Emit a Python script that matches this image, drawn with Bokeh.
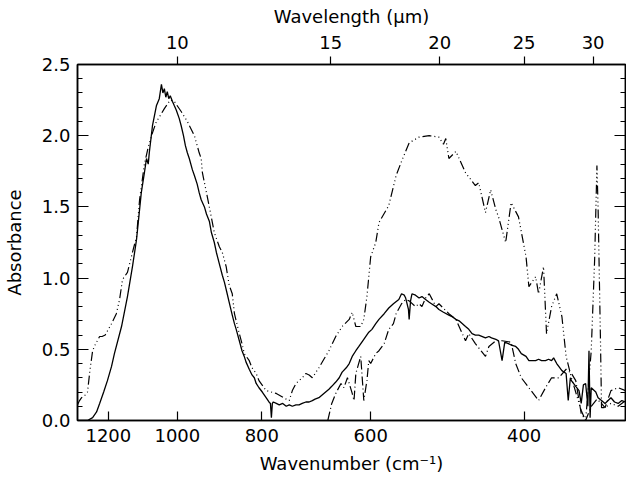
from bokeh.plotting import figure
from bokeh.models import (Range1d, FixedTicker, SingleIntervalTicker, LinearAxis, LogAxis,
                          CustomJSTickFormatter)
from bokeh.embed import file_html
from bokeh.resources import INLINE

# ---------------- data ----------------
# Series A (solid)
a_wn = [1302, 1288, 1268, 1251, 1238, 1228, 1215, 1203, 1190, 1181, 1159, 1141, 1126, 1114,
        1100, 1091, 1085, 1080, 1077, 1068, 1057, 1049, 1043, 1039, 1035, 1031, 1027, 1023,
        1019, 1013, 1008, 1003, 995, 990, 984, 979, 974, 969, 961, 956, 949, 944, 939, 931,
        926, 919, 914, 907, 902, 895, 888, 883, 879, 872, 865, 860, 856, 849, 843, 838, 834,
        827, 821, 816, 812, 806, 799, 795, 791, 785, 782, 780, 778, 776, 770, 764, 757, 750,
        744, 738, 731, 725, 719, 712, 706, 700, 695, 688, 679, 670, 665, 658, 652, 647, 640,
        635, 630, 624, 619, 611, 603, 598, 592, 587, 579, 572, 565, 557, 553, 549, 547, 543,
        542, 540, 538, 533, 528, 524, 519, 514, 511, 505, 501, 495, 488, 484, 479, 475, 467,
        463, 459, 455, 451, 443, 439, 436, 431, 428, 424, 421, 417, 414, 409, 406, 403, 398,
        395, 392, 388, 385, 382, 378, 375, 372, 370, 367, 365, 362, 358, 356, 354, 353, 349,
        346, 344, 342, 340, 338, 337, 336, 335, 331, 329, 326, 323, 318, 315, 312, 309, 306,
        303, 301]
a_abs = [0.00, 0.00, 0.00, 0.02, 0.06, 0.12, 0.20, 0.28, 0.38, 0.47, 0.66, 0.87, 1.08, 1.27,
         1.60, 1.74, 1.84, 1.80, 1.88, 2.07, 2.21, 2.26, 2.36, 2.30, 2.33, 2.27, 2.31, 2.26,
         2.28, 2.24, 2.21, 2.18, 2.12, 2.07, 2.00, 1.93, 1.88, 1.84, 1.76, 1.72, 1.66, 1.60,
         1.55, 1.50, 1.45, 1.40, 1.32, 1.25, 1.18, 1.10, 1.02, 0.97, 0.92, 0.83, 0.74, 0.68,
         0.64, 0.56, 0.49, 0.45, 0.41, 0.36, 0.32, 0.30, 0.26, 0.23, 0.20, 0.18, 0.16, 0.13,
         0.12, 0.02, 0.12, 0.13, 0.12, 0.11, 0.12, 0.10, 0.11, 0.10, 0.11, 0.11, 0.12, 0.13,
         0.13, 0.14, 0.15, 0.16, 0.19, 0.22, 0.24, 0.27, 0.30, 0.34, 0.37, 0.40, 0.45, 0.49,
         0.52, 0.57, 0.62, 0.64, 0.68, 0.71, 0.75, 0.79, 0.82, 0.85, 0.89, 0.88, 0.86, 0.78,
         0.71, 0.84, 0.89, 0.88, 0.86, 0.87, 0.85, 0.83, 0.82, 0.80, 0.78, 0.76, 0.74, 0.73,
         0.71, 0.70, 0.66, 0.64, 0.61, 0.60, 0.60, 0.58, 0.59, 0.58, 0.57, 0.56, 0.42, 0.55,
         0.54, 0.53, 0.52, 0.50, 0.47, 0.45, 0.42, 0.42, 0.42, 0.43, 0.42, 0.42, 0.43, 0.42,
         0.44, 0.40, 0.38, 0.35, 0.33, 0.14, 0.30, 0.28, 0.24, 0.21, 0.12, 0.25, 0.26, 0.10,
         0.49, 0.02, 0.23, 0.20, 0.16, 0.14, 0.12, 0.16, 0.13, 0.12, 0.14, 0.13, 0.10, 0.09]

# Series B (dash-dot-dot-dot, large far-IR band)
b_wn = [1302, 1295, 1288, 1275, 1268, 1260, 1251, 1243, 1238, 1228, 1220, 1210, 1200, 1190,
        1175, 1165, 1156, 1141, 1126, 1114, 1105, 1091, 1080, 1068, 1057, 1049, 1035, 1019,
        1008, 990, 974, 956, 944, 939, 936, 926, 919, 907, 895, 888, 879, 872, 865, 860, 849,
        843, 838, 827, 821, 812, 806, 791, 770, 750, 744, 738, 731, 725, 719, 712, 706, 700,
        688, 679, 670, 658, 647, 635, 630, 624, 616, 611, 606, 600, 592, 587, 572, 561, 553,
        542, 528, 514, 501, 495, 492, 488, 479, 467, 455, 451, 443, 437, 431, 428, 420, 414,
        406, 398, 395, 388, 385, 380, 377, 372, 367, 362, 358, 353, 344, 340, 335, 332, 330,
        329, 327, 326, 323, 318, 312, 306, 301]
b_abs = [0.11, 0.14, 0.16, 0.18, 0.20, 0.35, 0.49, 0.53, 0.55, 0.59, 0.59, 0.60, 0.64, 0.68,
         0.75, 0.85, 0.99, 1.04, 1.18, 1.29, 1.55, 1.80, 1.92, 2.02, 2.10, 2.13, 2.19, 2.25,
         2.24, 2.17, 2.10, 2.00, 1.88, 1.84, 1.74, 1.60, 1.50, 1.32, 1.22, 1.18, 1.08, 0.95,
         0.89, 0.75, 0.61, 0.54, 0.47, 0.42, 0.37, 0.33, 0.28, 0.21, 0.19, 0.15, 0.14, 0.21,
         0.26, 0.28, 0.30, 0.33, 0.32, 0.30, 0.37, 0.43, 0.49, 0.59, 0.66, 0.71, 0.76, 0.66,
         0.66, 0.71, 0.87, 1.15, 1.25, 1.39, 1.51, 1.72, 1.82, 1.95, 1.99, 2.00, 1.99, 1.94,
         1.98, 1.84, 1.89, 1.74, 1.65, 1.67, 1.46, 1.62, 1.48, 1.43, 1.25, 1.53, 1.43, 1.15,
         0.94, 1.01, 0.89, 1.08, 0.61, 0.80, 0.89, 0.73, 0.45, 0.30, 0.07, 0.00, 0.49, 1.13,
         1.79, 1.50, 0.60, 0.09, 0.09, 0.12, 0.10, 0.14, 0.12]

# Series C (dash-dot, starts below 680 cm^-1)
c_wn = [672, 665, 658, 649, 644, 638, 635, 630, 627, 624, 616, 611, 606, 603, 600, 592, 587,
        579, 572, 565, 561, 553, 547, 542, 533, 528, 524, 519, 514, 505, 501, 488, 479, 467,
        463, 455, 443, 439, 431, 424, 414, 409, 403, 395, 385, 378, 372, 365, 358, 353, 349,
        344, 340, 335, 330, 326, 323, 318, 312, 306, 301]
c_abs = [0.00, 0.12, 0.19, 0.26, 0.23, 0.30, 0.26, 0.19, 0.14, 0.33, 0.45, 0.14, 0.28, 0.42,
         0.40, 0.47, 0.49, 0.54, 0.64, 0.68, 0.75, 0.82, 0.85, 0.84, 0.80, 0.82, 0.80, 0.86,
         0.89, 0.80, 0.82, 0.75, 0.71, 0.56, 0.61, 0.54, 0.45, 0.52, 0.56, 0.56, 0.55, 0.40,
         0.30, 0.23, 0.14, 0.23, 0.30, 0.30, 0.36, 0.33, 0.28, 0.05, 0.00, 0.10, 0.15, 0.12,
         0.09, 0.21, 0.23, 0.21, 0.26]

wavenumber_ticks = [1200, 1000, 800, 600, 400]
wavelength_ticks = [10, 15, 20, 25, 30]
x_limits = (1302, 306)
y_limits = (0.0, 2.5)

FONT = "DejaVu Sans"
FS = "18px"

p = figure(width=626, height=480, x_axis_type="log",
           x_range=Range1d(*x_limits), y_range=Range1d(*y_limits),
           output_backend="svg", toolbar_location=None,
           min_border_left=73, min_border_right=1, min_border_top=64, min_border_bottom=60,
           background_fill_color="white", border_fill_color="white")
p.grid.visible = False
p.outline_line_color = "black"
p.outline_line_width = 1.5

p.line(a_wn, a_abs, line_color="black", line_width=1.3)
p.line(b_wn, b_abs, line_color="black", line_width=1.2, line_dash="9 3 1 3 1 3 1 3")
p.line(c_wn, c_abs, line_color="black", line_width=1.2, line_dash="9 3 1 3")

def style(ax):
    ax.axis_line_color = "black"
    ax.axis_line_width = 1.5
    ax.major_tick_line_color = "black"
    ax.minor_tick_line_color = "black"
    ax.major_tick_line_width = 1.2
    ax.minor_tick_line_width = 1.2
    ax.major_label_text_font = FONT
    ax.major_label_text_font_size = FS
    ax.major_label_text_color = "black"
    ax.axis_label_text_font = FONT
    ax.axis_label_text_font_size = FS
    ax.axis_label_text_font_style = "normal"
    ax.axis_label_text_color = "black"

# bottom axis
xb = p.xaxis[0]
style(xb)
xb.ticker = FixedTicker(ticks=wavenumber_ticks)
xb.formatter = CustomJSTickFormatter(code="return tick.toFixed(0)")
xb.major_tick_in = 9
xb.major_tick_out = 0
xb.minor_tick_in = 0
xb.minor_tick_out = 0
xb.major_label_standoff = 8
xb.axis_label = "Wavenumber (cm\u207b\u00b9)"
xb.axis_label_standoff = 8

# left axis
yl = p.yaxis[0]
style(yl)
yl.ticker = SingleIntervalTicker(interval=0.5, num_minor_ticks=5)
yl.formatter = CustomJSTickFormatter(code="return tick.toFixed(1)")
yl.major_tick_in = 11
yl.major_tick_out = 0
yl.minor_tick_in = 5
yl.minor_tick_out = 0
yl.major_label_standoff = 7
yl.axis_label = "Absorbance"
yl.axis_label_standoff = 14

# right axis (ticks only), pinned to the right end of the x range
yr = LinearAxis(ticker=SingleIntervalTicker(interval=0.5, num_minor_ticks=5),
                formatter=CustomJSTickFormatter(code="return ''"),
                fixed_location=x_limits[1])
style(yr)
yr.major_tick_in = 11
yr.major_tick_out = 0
yr.minor_tick_in = 5
yr.minor_tick_out = 0
yr.major_label_standoff = 0
yr.major_label_text_font_size = "0px"
p.add_layout(yr, "right")

# top axis (wavelength)
xt = LogAxis(ticker=FixedTicker(ticks=[1e4 / w for w in wavelength_ticks]),
             formatter=CustomJSTickFormatter(code="return (10000/tick).toFixed(0)"))
style(xt)
xt.major_tick_in = 0
xt.major_tick_out = 8
xt.minor_tick_in = 0
xt.minor_tick_out = 0
xt.major_label_standoff = 8
xt.axis_label = "Wavelength (\u03bcm)"
xt.axis_label_standoff = 6
p.add_layout(xt, "above")

open("out.html", "w").write(file_html(p, INLINE))
